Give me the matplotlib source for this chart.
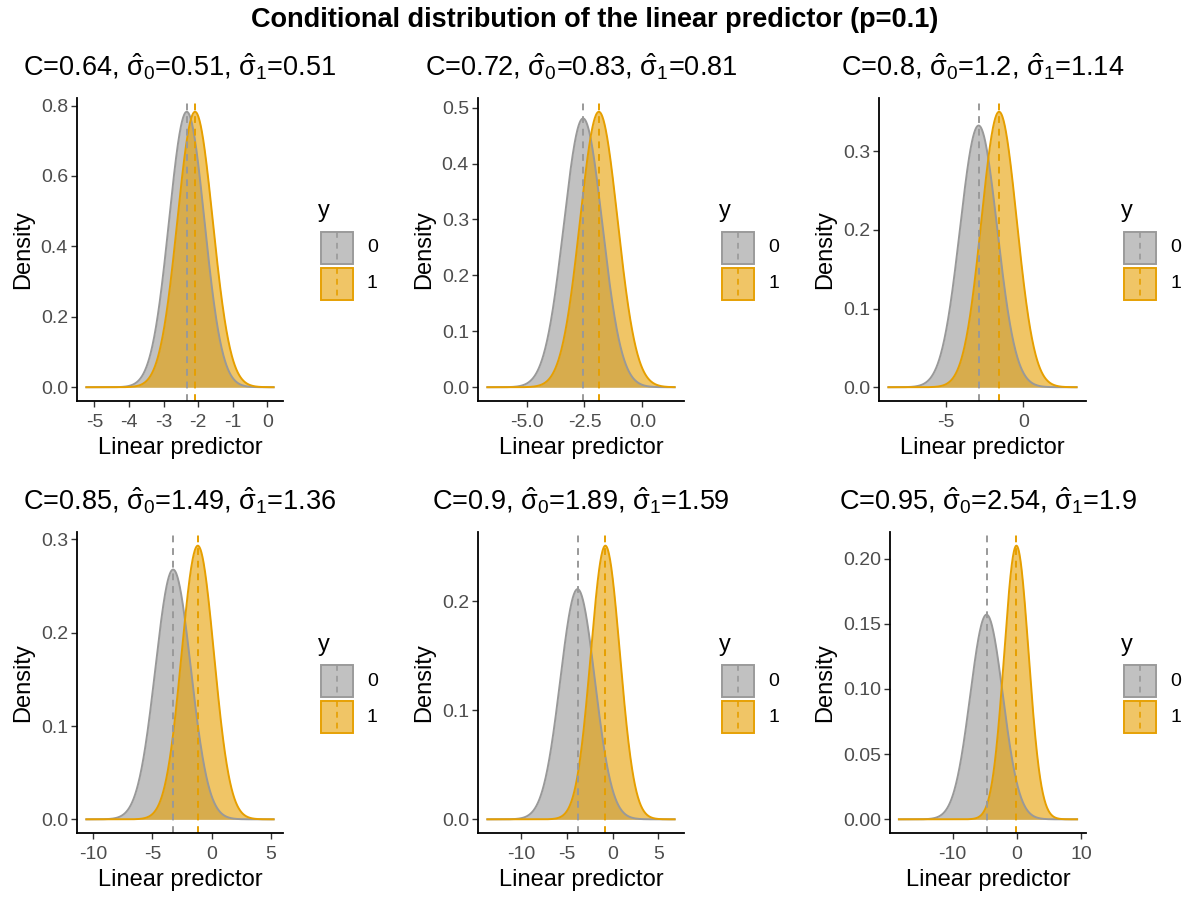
import numpy as np
import matplotlib
matplotlib.use('Agg')
import matplotlib.pyplot as plt
from matplotlib.patches import Rectangle
from matplotlib.lines import Line2D

plt.rcParams['font.family'] = ['Liberation Sans', 'DejaVu Sans']
plt.rcParams['mathtext.fontset'] = 'custom'
plt.rcParams['mathtext.rm'] = 'Liberation Sans'
plt.rcParams['mathtext.it'] = 'Liberation Sans'
plt.rcParams['mathtext.bf'] = 'Liberation Sans:bold'

# values
c_stat = [0.64, 0.72, 0.8, 0.85, 0.9, 0.95]
sigma0 = [0.51, 0.83, 1.2, 1.49, 1.89, 2.54]
sigma1 = [0.51, 0.81, 1.14, 1.36, 1.59, 1.9]
mean0 = [-2.33, -2.56, -2.88, -3.25, -3.83, -4.70]
mean1 = [-2.09, -1.88, -1.56, -1.17, -0.79, -0.05]
lp_min = [-5.23, -6.69, -8.70, -10.56, -13.7, -18.35]
lp_max = [0.18, 1.39, 3.44, 5.22, 6.79, 9.4]

x_ticks = [[-5, -4, -3, -2, -1, 0], [-5, -2.5, 0], [-5, 0],
           [-10, -5, 0, 5], [-10, -5, 0, 5], [-10, 0, 10]]
x_labels = [['-5', '-4', '-3', '-2', '-1', '0'], ['-5.0', '-2.5', '0.0'], ['-5', '0'],
            ['-10', '-5', '0', '5'], ['-10', '-5', '0', '5'], ['-10', '0', '10']]
y_ticks = [[0, 0.2, 0.4, 0.6, 0.8], [0, 0.1, 0.2, 0.3, 0.4, 0.5], [0, 0.1, 0.2, 0.3],
           [0, 0.1, 0.2, 0.3], [0, 0.1, 0.2], [0, 0.05, 0.10, 0.15, 0.20]]
y_labels = [['0.0', '0.2', '0.4', '0.6', '0.8'], ['0.0', '0.1', '0.2', '0.3', '0.4', '0.5'],
            ['0.0', '0.1', '0.2', '0.3'], ['0.0', '0.1', '0.2', '0.3'], ['0.0', '0.1', '0.2'],
            ['0.00', '0.05', '0.10', '0.15', '0.20']]
groups = ['0', '1']

GREY = '#999999'
ORANGE = '#E69F00'
W, H = 1190, 897

# axes boxes in pixels: left, top, right, bottom
boxes = [(77, 98, 283, 401), (478, 98, 684, 401), (879, 98, 1086, 401),
         (77, 532, 283, 833), (478, 532, 684, 833), (890, 532, 1086, 833)]


def fx(x):
    return x / W


def fy(y):
    return 1 - y / H


def norm_pdf(x, mu, sd):
    return np.exp(-0.5 * ((x - mu) / sd) ** 2) / (sd * np.sqrt(2 * np.pi))


def draw_legend(fig, right, top, bottom):
    cy = (top + bottom) / 2
    x0 = right + 37
    fig.text(fx(x0 - 2), fy(cy - 38), 'y', fontsize=17, ha='left', va='center')
    for k, col in enumerate([GREY, ORANGE]):
        ktop = cy - 18.5 + k * 36
        fig.patches.append(Rectangle((fx(x0), fy(ktop + 34)), 34 / W, 34 / H,
                                     transform=fig.transFigure, facecolor=col,
                                     alpha=0.6, edgecolor='none'))
        fig.patches.append(Rectangle((fx(x0 + 0.7), fy(ktop + 33.3)), 32.6 / W, 32.6 / H,
                                     transform=fig.transFigure, facecolor='none',
                                     edgecolor=col, lw=1.3))
        fig.lines.append(Line2D([fx(x0 + 17)] * 2, [fy(ktop + 1), fy(ktop + 33)],
                                transform=fig.transFigure, color=col, lw=1.2,
                                linestyle=(0, (3.5, 3))))
        fig.text(fx(x0 + 47), fy(ktop + 17), groups[k], fontsize=14, ha='left', va='center')


fig = plt.figure(figsize=(11.9, 8.97), dpi=100)
fig.text(0.5, fy(20), 'Conditional distribution of the linear predictor (p=0.1)',
         fontsize=19.5, fontweight='bold', ha='center', va='center')

for i in range(6):
    l, t, r, b = boxes[i]
    ax = fig.add_axes([fx(l), fy(b), (r - l) / W, (b - t) / H])
    xs = np.linspace(lp_min[i], lp_max[i], 512)
    for mu, sd, col in [(mean0[i], sigma0[i], GREY), (mean1[i], sigma1[i], ORANGE)]:
        d = norm_pdf(xs, mu, sd)
        ax.fill_between(xs, 0, d, color=col, alpha=0.6, lw=0)
        ax.plot(xs, d, color=col, lw=1.4)
    ax.axvline(mean0[i], color=GREY, lw=1.4, linestyle=(0, (3.5, 3)))
    ax.axvline(mean1[i], color=ORANGE, lw=1.4, linestyle=(0, (3.5, 3)))
    ax.margins(x=0.05, y=0.05)

    ax.set_xticks(x_ticks[i])
    ax.set_xticklabels(x_labels[i])
    ax.set_yticks(y_ticks[i])
    ax.set_yticklabels(y_labels[i])
    ax.tick_params(labelsize=14, labelcolor='#4D4D4D', color='#333333',
                   length=4, width=1.0)
    ax.tick_params(axis='x', pad=5)
    ax.tick_params(axis='y', pad=2.5)
    for s in ['top', 'right']:
        ax.spines[s].set_visible(False)
    for s in ['left', 'bottom']:
        ax.spines[s].set_linewidth(1.3)
    ax.set_xlabel('Linear predictor', fontsize=17, labelpad=4.5)
    ax.set_ylabel('Density', fontsize=17, labelpad=5)
    title = (f'C={c_stat[i]:g}, $\\hat{{\\sigma}}_0$={sigma0[i]:g}, '
             f'$\\hat{{\\sigma}}_1$={sigma1[i]:g}')
    fig.text(fx((l + r) / 2), fy(t - 31), title, fontsize=19.5, ha='center', va='center')
    draw_legend(fig, r, t, b)

fig.savefig('out.png', dpi=100)
